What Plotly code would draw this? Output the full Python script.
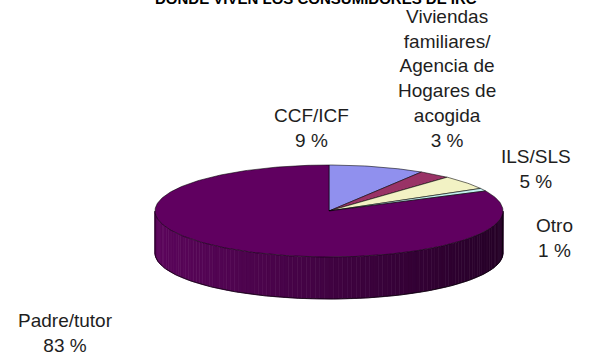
import numpy as np
import plotly.graph_objects as go

# ---- data ----
categories = ["CCF/ICF", "Viviendas<br>familiares/<br>Agencia de<br>Hogares de<br>acogida",
              "ILS/SLS", "Otro", "Padre/tutor"]
values = [9, 3, 5, 1, 83]
title_text = "DONDE VIVEN LOS CONSUMIDORES DE IRC"

# ---- styles / layout (pixel space) ----
W, H = 592, 356
cx, cy, rx, ry, depth = 329, 211, 174, 46, 42
top_colors = ["#9090ee", "#993366", "#f2f2c4", "#c4f0f0", "#600060"]
label_pos = [(311, 128), (447, 78), (536, 169), (554, 238), (65, 333)]
font_family = "Liberation Sans, Arial, sans-serif"


def pt(theta_deg, dy=0.0):
    th = np.radians(theta_deg)
    return cx + rx * np.sin(th), cy - ry * np.cos(th) + dy


fig = go.Figure()

# side (front half of the cylinder) with horizontal shading
c_left = np.array([0x5c, 0x06, 0x5c])
c_right = np.array([0x26, 0x00, 0x28])
n = 120
for i in range(n):
    a0 = 90 + 180 * i / n
    a1 = 90 + 180 * (i + 1) / n
    xs0, ys0 = pt(a0)
    xs1, ys1 = pt(a1)
    xb0, yb0 = pt(a0, depth)
    xb1, yb1 = pt(a1, depth)
    xm = (xs0 + xs1) / 2
    t = (xm - (cx - rx)) / (2 * rx)
    c = c_left + (c_right - c_left) * t
    col = "rgb(%d,%d,%d)" % tuple(int(v) for v in c)
    fig.add_trace(go.Scatter(
        x=[xs0, xs1, xb1, xb0, xs0], y=[ys0, ys1, yb1, yb0, ys0],
        mode="lines", fill="toself", fillcolor=col,
        line=dict(color=col, width=0.6), hoverinfo="skip", showlegend=False))

# side outline
angs = np.linspace(90, 270, 181)
bx, by = zip(*[pt(a, depth) for a in angs])
rx0, ry0 = pt(90)
lx0, ly0 = pt(270)
fig.add_trace(go.Scatter(
    x=[rx0] + list(bx) + [lx0], y=[ry0] + list(by) + [ly0],
    mode="lines", line=dict(color="rgba(0,0,0,0.85)", width=0.8),
    hoverinfo="skip", showlegend=False))

# top face slices, clockwise from 12 o'clock
total = float(sum(values))
start = 0.0
for name, v, col in zip(categories, values, top_colors):
    a0 = 360 * start / total
    a1 = 360 * (start + v) / total
    k = max(int(np.ceil(a1 - a0)), 2)
    arc = [pt(a) for a in np.linspace(a0, a1, k + 1)]
    xs = [cx] + [p[0] for p in arc] + [cx]
    ys = [cy] + [p[1] for p in arc] + [cy]
    fig.add_trace(go.Scatter(
        x=xs, y=ys, mode="lines", fill="toself", fillcolor=col,
        line=dict(color="rgba(0,0,0,0.8)", width=0.7),
        name=name.replace("<br>", " "), hoverinfo="name", showlegend=False))
    start += v

# labels
for name, v, (lx, ly) in zip(categories, values, label_pos):
    fig.add_annotation(x=lx, y=ly, xref="x", yref="y", text="%s<br>%d %%" % (name, v),
                       showarrow=False, xanchor="center", yanchor="middle", align="center",
                       font=dict(family=font_family, size=19, color="#1e1e1e"))

# title (clipped at top as in the reference)
fig.add_annotation(x=316 / W, y=1 + 1 / H, xref="paper", yref="paper",
                   text="<b>%s</b>" % title_text, showarrow=False,
                   xanchor="center", yanchor="middle",
                   font=dict(family=font_family, size=15, color="#000000"))

fig.update_layout(
    width=W, height=H, margin=dict(l=0, r=0, t=0, b=0),
    paper_bgcolor="white", plot_bgcolor="white",
    xaxis=dict(range=[0, W], visible=False, fixedrange=True),
    yaxis=dict(range=[H, 0], visible=False, fixedrange=True),
    showlegend=False,
)

fig.write_html("out.html")
